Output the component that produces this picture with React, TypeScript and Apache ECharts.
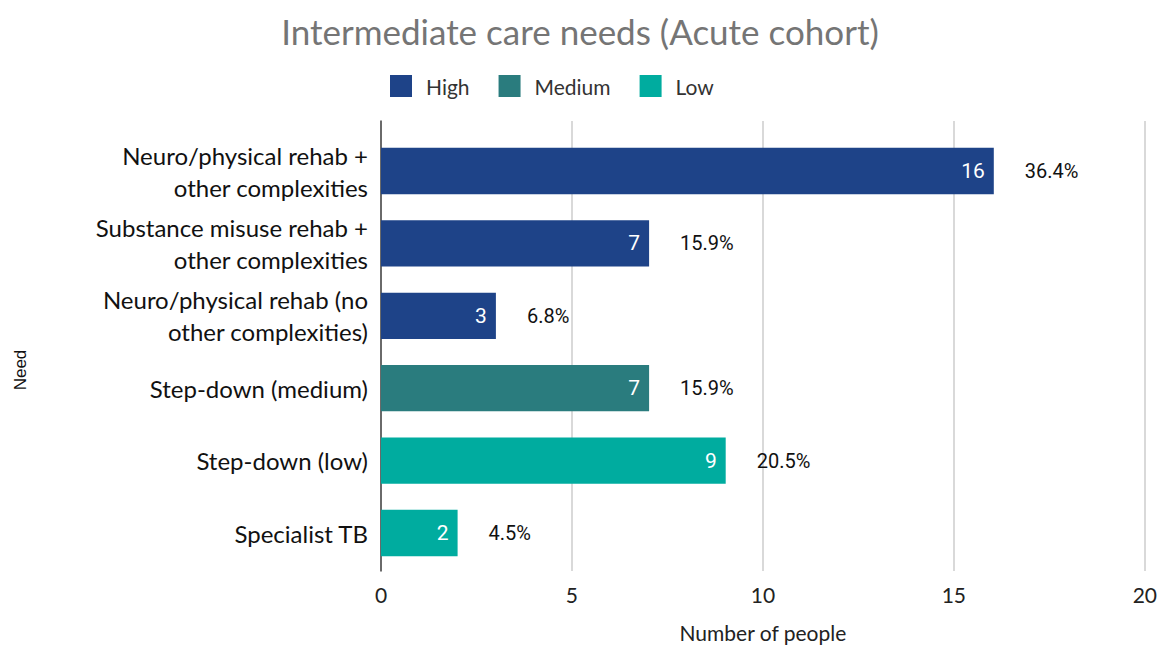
import React, { useEffect, useRef } from "react";
import * as echarts from "echarts";

const categories = [
  "Neuro/physical rehab +\nother complexities",
  "Substance misuse rehab +\nother complexities",
  "Neuro/physical rehab (no\nother complexities)",
  "Step-down (medium)",
  "Step-down (low)",
  "Specialist TB",
];
const levels = ["High", "High", "High", "Medium", "Low", "Low"];
const values = [16, 7, 3, 7, 9, 2];
const percents = ["36.4%", "15.9%", "6.8%", "15.9%", "20.5%", "4.5%"];
const seriesNames = ["High", "Medium", "Low"];
const colors: Record<string, string> = { High: "#1e4388", Medium: "#2a7c7e", Low: "#00ac9f" };
const xTicks = [0, 5, 10, 15, 20];

const CAL = "Lato, 'Open Sans', sans-serif";

export default function App() {
  const ref = useRef<HTMLDivElement>(null);
  useEffect(() => {
    if (!ref.current) return;
    const chart = echarts.init(ref.current, null, { renderer: "svg" });
    const barSeries = seriesNames.map((name) => ({
      name,
      type: "bar",
      xAxisIndex: 1,
      yAxisIndex: 1,
      barGap: "-100%",
      barCategoryGap: "36%",
      itemStyle: { color: colors[name] },
      data: values.map((v, i) => (levels[i] === name ? v : null)),
      label: {
        show: true,
        position: "insideRight",
        distance: 9,
        color: "#ffffff",
        fontFamily: "Roboto, sans-serif",
        fontSize: 21,
      },
      z: 3,
    }));
    chart.setOption({
      animation: false,
      title: {
        text: "Intermediate care needs (Acute cohort)",
        left: "center",
        top: 8,
        textStyle: { color: "#757575", fontSize: 35, fontWeight: "normal", fontFamily: CAL },
      },
      legend: {
        data: seriesNames,
        left: 385,
        top: 70,
        itemWidth: 22,
        itemHeight: 22,
        itemGap: 29,
        icon: "rect",
        textStyle: { color: "#333333", fontSize: 21, fontFamily: CAL, padding: [0, 0, 0, 9] },
      },
      graphic: [
        {
          type: "text",
          x: 20,
          y: 370,
          rotation: Math.PI / 2,
          style: {
            text: "Need",
            fill: "#111111",
            font: "17px 'Liberation Sans', Arial, sans-serif",
            align: "center",
            verticalAlign: "middle",
          },
        },
      ],
      grid: [
        { left: 381, right: 13, top: 121, bottom: 67 },
        { left: 381, right: 13, top: 134.8, bottom: 78.8 },
      ],
      xAxis: [
        {
          type: "value",
          gridIndex: 0,
          min: xTicks[0],
          max: xTicks[xTicks.length - 1],
          interval: 5,
          name: "Number of people",
          nameLocation: "middle",
          nameGap: 51,
          nameTextStyle: { color: "#222222", fontSize: 21, fontFamily: CAL },
          axisLine: { show: false },
          axisTick: { show: false },
          axisLabel: { color: "#222222", fontSize: 21, fontFamily: CAL, margin: 13 },
          splitLine: { show: true, lineStyle: { color: "#cccccc", width: 1.5 } },
        },
        {
          type: "value",
          gridIndex: 1,
          min: xTicks[0],
          max: xTicks[xTicks.length - 1],
          show: false,
          splitLine: { show: false },
        },
      ],
      yAxis: [
        {
          type: "value",
          gridIndex: 0,
          min: 0,
          max: 1,
          axisLine: { show: true, lineStyle: { color: "#444444", width: 1.5 } },
          axisTick: { show: false },
          axisLabel: { show: false },
          splitLine: { show: false },
        },
        {
          type: "category",
          gridIndex: 1,
          inverse: true,
          data: categories,
          axisLine: { show: false },
          axisTick: { show: false },
          axisLabel: {
            color: "#111111",
            fontSize: 24,
            fontFamily: CAL,
            lineHeight: 32,
            margin: 13,
            align: "right",
          },
        },
      ],
      series: [
        ...barSeries,
        {
          name: "pct",
          type: "bar",
          xAxisIndex: 1,
          yAxisIndex: 1,
          barGap: "-100%",
          barCategoryGap: "36%",
          silent: true,
          itemStyle: { color: "rgba(0,0,0,0)" },
          data: values,
          label: {
            show: true,
            position: "right",
            distance: 31,
            color: "#111111",
            fontFamily: "Roboto, sans-serif",
            fontSize: 20,
            formatter: (p: any) => percents[p.dataIndex],
          },
          z: 1,
        },
      ],
    });
    return () => chart.dispose();
  }, []);
  return (
    <div
      ref={ref}
      style={{ position: "fixed", left: 0, top: 0, width: 1160, height: 648, background: "#ffffff" }}
    />
  );
}
